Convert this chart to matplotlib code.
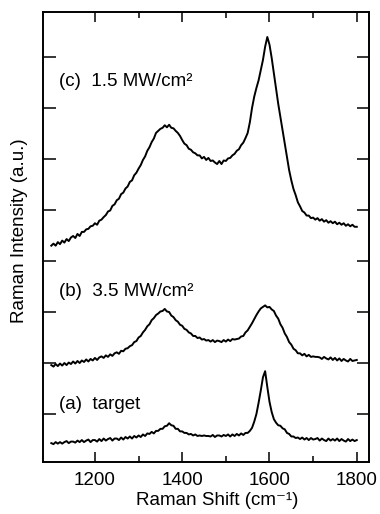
import numpy as np
import matplotlib
matplotlib.use("Agg")
import matplotlib.pyplot as plt
from matplotlib.ticker import FixedLocator

plt.rcParams["font.family"] = ["Liberation Sans", "DejaVu Sans"]

# Raman shift grid (cm-1), sampled every 5 cm-1
shift = np.arange(1100, 1801, 5)

# (a) target, offset units = one y tick spacing
target = [
    0.37, 0.35, 0.39, 0.36, 0.39, 0.36, 0.39, 0.41, 0.37, 0.40,
    0.40, 0.38, 0.42, 0.39, 0.43, 0.39, 0.42, 0.44, 0.39, 0.43,
    0.43, 0.40, 0.45, 0.41, 0.46, 0.42, 0.45, 0.47, 0.42, 0.46,
    0.46, 0.43, 0.48, 0.44, 0.49, 0.46, 0.50, 0.46, 0.51, 0.48,
    0.52, 0.49, 0.54, 0.51, 0.56, 0.55, 0.59, 0.56, 0.61, 0.61,
    0.65, 0.65, 0.70, 0.71, 0.76, 0.72, 0.71, 0.65, 0.65, 0.60,
    0.60, 0.57, 0.57, 0.54, 0.55, 0.52, 0.54, 0.51, 0.52, 0.51,
    0.52, 0.51, 0.51, 0.50, 0.53, 0.49, 0.52, 0.52, 0.50, 0.53,
    0.51, 0.54, 0.50, 0.54, 0.51, 0.55, 0.52, 0.56, 0.53, 0.57,
    0.57, 0.61, 0.67, 0.79, 0.94, 1.16, 1.40, 1.66, 1.78, 1.47,
    1.18, 0.98, 0.84, 0.77, 0.72, 0.71, 0.66, 0.64, 0.57, 0.55,
    0.50, 0.50, 0.47, 0.48, 0.45, 0.48, 0.44, 0.47, 0.43, 0.47,
    0.44, 0.45, 0.47, 0.42, 0.46, 0.43, 0.41, 0.46, 0.42, 0.45,
    0.42, 0.46, 0.41, 0.45, 0.42, 0.40, 0.45, 0.41, 0.44, 0.41,
    0.43,
]

# (b) 3.5 MW/cm2
b_35 = [
    1.90, 1.87, 1.92, 1.88, 1.93, 1.89, 1.94, 1.90, 1.95, 1.92,
    1.97, 1.93, 1.98, 1.94, 1.99, 1.96, 2.01, 1.97, 2.02, 1.99,
    2.04, 2.00, 2.05, 2.07, 2.04, 2.09, 2.06, 2.11, 2.08, 2.13,
    2.15, 2.12, 2.18, 2.17, 2.22, 2.23, 2.27, 2.29, 2.35, 2.37,
    2.44, 2.47, 2.54, 2.59, 2.66, 2.70, 2.78, 2.82, 2.88, 2.91,
    2.95, 2.96, 3.00, 2.95, 2.94, 2.87, 2.84, 2.78, 2.75, 2.69,
    2.67, 2.61, 2.59, 2.54, 2.52, 2.47, 2.47, 2.43, 2.44, 2.40,
    2.41, 2.38, 2.39, 2.36, 2.39, 2.35, 2.38, 2.37, 2.35, 2.39,
    2.36, 2.40, 2.37, 2.41, 2.40, 2.41, 2.42, 2.46, 2.47, 2.54,
    2.58, 2.65, 2.72, 2.80, 2.88, 2.95, 3.01, 3.04, 3.07, 3.03,
    3.04, 2.99, 2.96, 2.87, 2.81, 2.70, 2.63, 2.52, 2.45, 2.35,
    2.30, 2.22, 2.19, 2.13, 2.13, 2.09, 2.12, 2.07, 2.10, 2.06,
    2.07, 2.06, 2.06, 2.05, 2.02, 2.06, 2.03, 2.01, 2.05, 2.00,
    2.04, 1.99, 2.03, 1.98, 2.02, 1.99, 1.97, 2.02, 1.98, 1.99,
    2.00,
]

# (c) 1.5 MW/cm2
c_15 = [
    4.24, 4.28, 4.24, 4.31, 4.27, 4.34, 4.30, 4.37, 4.33, 4.40,
    4.43, 4.39, 4.47, 4.43, 4.51, 4.51, 4.56, 4.57, 4.62, 4.63,
    4.68, 4.65, 4.73, 4.75, 4.80, 4.84, 4.91, 4.93, 5.02, 5.05,
    5.13, 5.16, 5.25, 5.28, 5.36, 5.40, 5.49, 5.52, 5.62, 5.67,
    5.75, 5.82, 5.92, 5.99, 6.10, 6.17, 6.27, 6.34, 6.45, 6.49,
    6.53, 6.55, 6.60, 6.56, 6.61, 6.55, 6.54, 6.49, 6.45, 6.39,
    6.31, 6.24, 6.21, 6.14, 6.12, 6.07, 6.05, 6.01, 6.01, 5.95,
    5.98, 5.92, 5.96, 5.90, 5.91, 5.87, 5.84, 5.90, 5.84, 5.91,
    5.90, 5.95, 5.96, 6.01, 6.04, 6.10, 6.13, 6.21, 6.26, 6.35,
    6.45, 6.66, 6.94, 7.16, 7.33, 7.48, 7.68, 7.88, 8.14, 8.33,
    8.18, 7.92, 7.62, 7.32, 7.02, 6.76, 6.51, 6.25, 5.98, 5.72,
    5.52, 5.35, 5.23, 5.09, 5.01, 4.92, 4.89, 4.83, 4.83, 4.78,
    4.79, 4.75, 4.78, 4.73, 4.76, 4.71, 4.74, 4.69, 4.72, 4.68,
    4.71, 4.66, 4.69, 4.65, 4.68, 4.63, 4.66, 4.62, 4.65, 4.61,
    4.61,
]

labels = ["(a)  target", "(b)  3.5 MW/cm\u00b2", "(c)  1.5 MW/cm\u00b2"]
label_y = [1.12, 3.35, 7.45]
y_ticks = [0.94 + k for k in range(8)]

fig = plt.figure(figsize=(3.8, 5.14), dpi=100)
ax = fig.add_axes([43 / 380, 1 - 462 / 514, 326 / 380, 450 / 514])

for spec in (target, b_35, c_15):
    ax.plot(shift, spec, color="black", lw=1.4)

for txt, yy in zip(labels, label_y):
    ax.text(1117, yy, txt, fontsize=13.5, va="center", ha="left")

ax.set_xlim(1081, 1828)
ax.set_ylim(0, 8.82)

ax.xaxis.set_major_locator(FixedLocator([1200, 1400, 1600, 1800]))
ax.xaxis.set_minor_locator(FixedLocator([1300, 1500, 1700]))
ax.yaxis.set_major_locator(FixedLocator(y_ticks))
ax.set_yticklabels([])

ax.tick_params(axis="x", which="major", direction="in", length=7, width=1.1,
               top=True, labelsize=13.5, pad=7)
ax.tick_params(axis="x", which="minor", direction="in", length=4.5, width=1.1,
               top=True)
ax.tick_params(axis="y", which="major", direction="in", length=9, width=1.1,
               right=True)

for sp in ax.spines.values():
    sp.set_linewidth(1.4)

ax.set_xlabel("Raman Shift (cm\u207b\u00b9)", fontsize=13.5)
ax.set_ylabel("Raman Intensity (a.u.)", fontsize=13.5)
ax.xaxis.set_label_coords(0.535, -0.067)
ax.yaxis.set_label_coords(-0.045, 0.513)

fig.savefig("out.png", dpi=100)
